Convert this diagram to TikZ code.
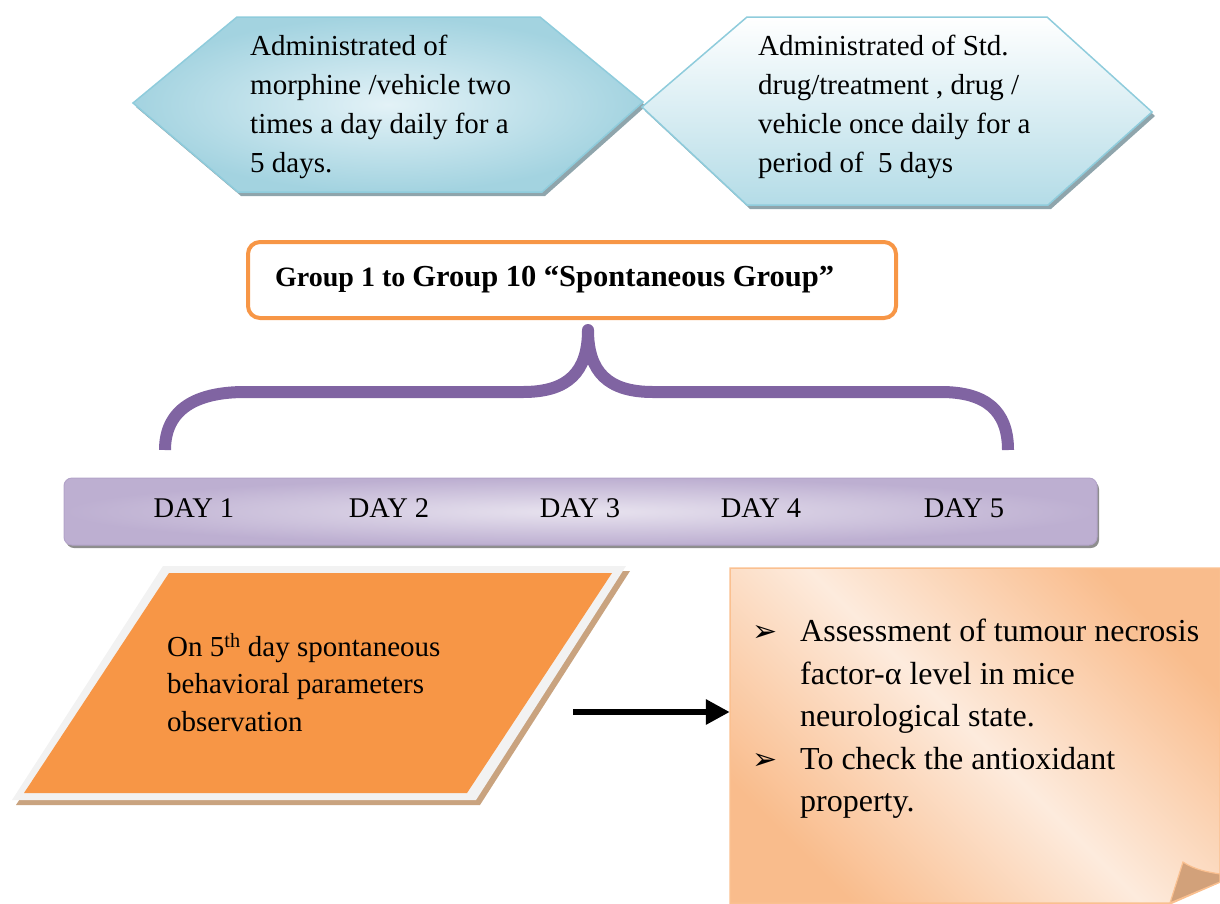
\documentclass[tikz,border=0pt]{standalone}
\usepackage{fontspec}
\setmainfont{Liberation Serif}
\newfontfamily\dejavu{DejaVu Sans}
\usetikzlibrary{arrows.meta}
\definecolor{hexedge}{HTML}{8FCCDC}
\definecolor{hexdark}{HTML}{A3D3E0}
\definecolor{hexlight}{HTML}{E3F2F7}
\definecolor{hexbot}{HTML}{B4DCE7}
\definecolor{hexshadow}{HTML}{8FA5AC}
\definecolor{grporange}{HTML}{F79646}
\definecolor{bracepurple}{HTML}{8064A2}
\definecolor{barlight}{HTML}{E8E3EF}
\definecolor{bardark}{HTML}{BDAFD1}
\definecolor{baredge}{HTML}{B3A3C9}
\definecolor{barshadow}{HTML}{8E8E8E}
\definecolor{paraframe}{HTML}{F2F2F2}
\definecolor{parashadow}{HTML}{C9A37F}
\definecolor{notedark}{HTML}{F9BC8C}
\definecolor{notelight}{HTML}{FDEBDD}
\definecolor{noteedge}{HTML}{FAC090}
\definecolor{curltan}{HTML}{D2A17A}
\tikzset{
  bodytext/.style={font=\fontsize{29}{39}\selectfont, align=left, inner sep=0pt, anchor=north west},
  daytext/.style={font=\fontsize{28.5}{34}\selectfont, inner sep=0pt},
  hexframe/.style={draw=hexedge, line width=1.5pt},
  bigarrow/.style={line width=6pt, -{Triangle[length=24pt,width=24pt]}},
  bulletmark/.style={font=\dejavu\bfseries\fontsize{30}{42.5}\selectfont},
}
\begin{document}
\begin{tikzpicture}[x=1pt,y=-1pt]
\useasboundingbox (0,0) rectangle (1220,903);
% hexagon 1
\fill[hexshadow, shift={(3,4)}] (133,103) -- (237,17) -- (540,17) -- (643,102) -- (542,192) -- (238,192) -- cycle;
\shade[hexframe, inner color=hexlight, outer color=hexdark] (133,103) -- (237,17) -- (540,17) -- (643,102) -- (542,192) -- (238,192) -- cycle;
\node[bodytext] (hexAtext) at (250,35) {Administrated of\\morphine /vehicle two\\times a day daily for a\\5 days.};
% hexagon 2
\fill[hexshadow, shift={(3,4)}] (642,107) -- (747,17) -- (1047,17) -- (1152,112) -- (1048,205) -- (747,205) -- cycle;
\shade[hexframe, top color=white, bottom color=hexbot] (642,107) -- (747,17) -- (1047,17) -- (1152,112) -- (1048,205) -- (747,205) -- cycle;
\node[bodytext] (hexBtext) at (758,35) {Administrated of Std.\\drug/treatment , drug /\\vehicle once daily for a\\period of\ \ 5 days};
% group box
\node[draw=grporange, line width=4pt, rounded corners=12pt, minimum width=648pt, minimum height=76pt, inner sep=0pt] (grp) at (572,280) {};
\node[anchor=west, inner sep=0pt, font=\bfseries] (grptext) at (275,280) {\fontsize{28}{30}\selectfont Group 1 to \fontsize{30.5}{34}\selectfont Group 10 “Spontaneous Group”};
% brace
\draw[bracepurple, line width=12pt, line cap=butt, line join=round]
  (165,450) .. controls (165,410) and (195,392) .. (245,392) -- (523,392)
  .. controls (568,392) and (588,372) .. (588,330)
  .. controls (588,372) and (608,392) .. (653,392) -- (941,392)
  .. controls (985,392) and (1008,410) .. (1008,450);
% day bar
\fill[barshadow, rounded corners=8pt] (66,481) rectangle (1099,548);
\shade[inner color=barlight, outer color=bardark, rounded corners=8pt, draw=baredge, line width=1pt] (64,478) rectangle (1097,545);
\node[daytext] (d1) at (194,508) {DAY 1};
\node[daytext] (d2) at (389,508) {DAY 2};
\node[daytext] (d3) at (580,508) {DAY 3};
\node[daytext] (d4) at (761,508) {DAY 4};
\node[daytext] (d5) at (964,508) {DAY 5};
% parallelogram
\fill[parashadow, shift={(4,5)}] (163,566) -- (626,566) -- (476,800) -- (12,800) -- cycle;
\fill[paraframe] (163,566) -- (626,566) -- (476,800) -- (12,800) -- cycle;
\fill[grporange] (169,573) -- (612,573) -- (467,793) -- (24,793) -- cycle;
\node[bodytext, font=\fontsize{29}{37.5}\selectfont] (paratext) at (167,633) {On 5\textsuperscript{th} day spontaneous\\behavioral parameters\\observation};
% note box
\shade[top color=notedark, bottom color=notedark, middle color=notelight, shading angle=-45, draw=noteedge, line width=1.5pt]
  (730,568) -- (1220,568) -- (1220,882) -- (1172,903) -- (730,903) -- cycle;
\fill[curltan, draw=noteedge, line width=1.2pt] (1183,862) .. controls (1195,870) and (1208,872) .. (1220,874) -- (1220,882) -- (1170,903) -- cycle;
\node[inner sep=0pt, minimum width=490pt, minimum height=335pt] (note) at (975,735.5) {};
\node[anchor=north west, inner sep=0pt, font=\fontsize{32}{42.5}\selectfont] (notetext) at (752,612) {%
  \begin{tabular}{@{}p{48pt}@{}l@{}}
  \tikz[baseline]\node[bulletmark, inner sep=0pt, anchor=base west]{➢}; & Assessment of tumour necrosis\\
   & factor-α level in mice\\
   & neurological state.\\
  \tikz[baseline]\node[bulletmark, inner sep=0pt, anchor=base west]{➢}; & To check the antioxidant\\
   & property.
  \end{tabular}};
% arrow
\coordinate (arrowstart) at (573,712);
\draw[bigarrow] (arrowstart) -- (note.west |- arrowstart);
\end{tikzpicture}
\end{document}
